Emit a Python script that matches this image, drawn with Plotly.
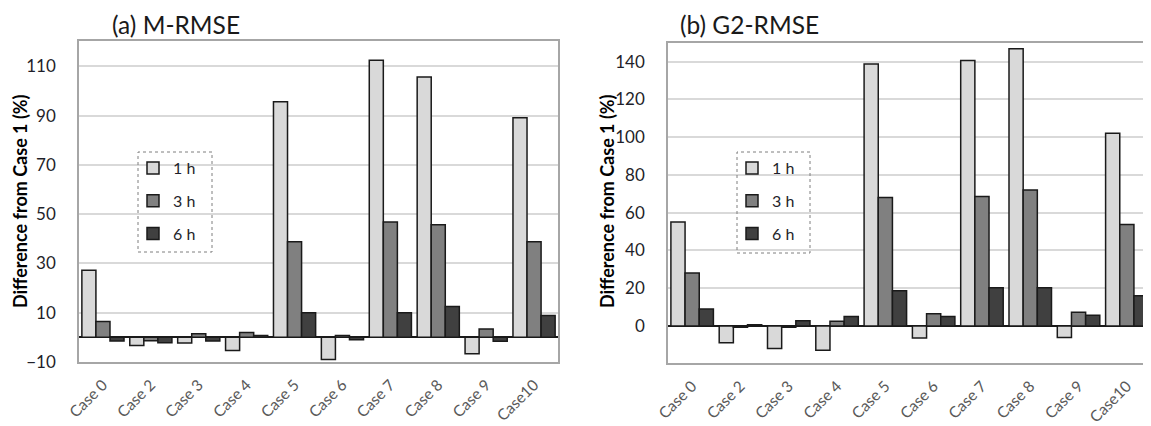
import plotly.graph_objects as go

categories = ["Case 0", "Case 2", "Case 3", "Case 4", "Case 5", "Case 6", "Case 7", "Case 8", "Case 9", "Case10"]
series_names = ["1 h", "3 h", "6 h"]

# (a) M-RMSE
m_1h = [27.2, -3.3, -2.3, -5.3, 95.6, -9.0, 112.5, 105.7, -6.7, 89.1]
m_3h = [6.4, -1.4, 1.5, 2.0, 38.8, 0.8, 46.8, 45.7, 3.4, 38.8]
m_6h = [-1.5, -2.2, -1.5, 0.8, 10.0, -1.0, 10.0, 12.5, -1.6, 8.9]

# (b) G2-RMSE
g_1h = [55.1, -8.9, -12.0, -12.9, 138.8, -6.4, 140.6, 146.8, -6.2, 102.1]
g_3h = [28.0, -0.7, -0.7, 2.5, 68.0, 6.4, 68.6, 72.0, 7.3, 53.7]
g_6h = [9.0, 0.6, 2.7, 5.0, 18.6, 5.0, 20.2, 20.2, 5.7, 16.0]

colors = ["#d9d9d9", "#808080", "#404040"]

# the page body adds an 8 px offset; size the figure so it ends at the window edge
OFF = 8
W, H = 1151 - OFF, 426 - OFF
FONT = "Lato"

def px(x):
    return (x - OFF) / W

def py(y):
    return 1 - (y - OFF) / H

fig = go.Figure()

for i, (name, vals) in enumerate(zip(series_names, [m_1h, m_3h, m_6h])):
    fig.add_trace(go.Bar(x=categories, y=vals, name=name, xaxis="x", yaxis="y",
                         marker=dict(color=colors[i], line=dict(color="#1a1a1a", width=1.5)),
                         legend="legend", legendgroup="a" + name))
for i, (name, vals) in enumerate(zip(series_names, [g_1h, g_3h, g_6h])):
    fig.add_trace(go.Bar(x=categories, y=vals, name=name, xaxis="x2", yaxis="y2",
                         marker=dict(color=colors[i], line=dict(color="#1a1a1a", width=1.5)),
                         legend="legend2", legendgroup="b" + name))

axis_common = dict(showline=True, mirror=True, linecolor="#a6a6a6", linewidth=1.5, automargin=False)
xcommon = dict(axis_common, tickangle=-45, tickfont=dict(family=FONT, size=15.5, color="#595959"),
               ticks="", showgrid=False, ticklabelstandoff=6)
ycommon = dict(axis_common, showgrid=True, gridcolor="#d9d9d9", gridwidth=1.5,
               zeroline=True, zerolinecolor="#1a1a1a", zerolinewidth=1.5,
               tickfont=dict(family=FONT, size=17, color="#1f1f2a"), ticks="",
               ticklabelstandoff=18, dtick=20)

legend_common = dict(xanchor="left", yanchor="top",
                     font=dict(family=FONT, size=16, color="#1f1f2a"), bgcolor="rgba(0,0,0,0)",
                     tracegroupgap=9, itemwidth=30)

fig.update_layout(
    width=W, height=H,
    margin=dict(l=0, r=0, t=0, b=0, autoexpand=False),
    paper_bgcolor="white", plot_bgcolor="white",
    barmode="group", bargap=0.12, bargroupgap=0,
    font=dict(family=FONT),
    xaxis=dict(xcommon, domain=[px(79), px(558)], anchor="y"),
    yaxis=dict(ycommon, domain=[py(362), py(41)], range=[-10, 120.3], tick0=-10, anchor="x"),
    xaxis2=dict(xcommon, domain=[px(668), 1.0], anchor="y2"),
    yaxis2=dict(ycommon, domain=[py(363.3), py(43.3)], range=[-19.8, 149.7], tick0=0, anchor="x2"),
    legend=dict(legend_common, x=px(133), y=py(151)),
    legend2=dict(legend_common, x=px(732), y=py(151)),
    showlegend=True,
)

fig.add_shape(type="rect", xref="paper", yref="paper", x0=px(138), x1=px(212), y0=py(252), y1=py(152),
              line=dict(color="#7f7f7f", width=1, dash="dot"))
fig.add_shape(type="rect", xref="paper", yref="paper", x0=px(737), x1=px(810), y0=py(253), y1=py(152),
              line=dict(color="#7f7f7f", width=1, dash="dot"))

fig.add_annotation(text="(a) M-RMSE", x=px(176), y=py(9), xref="paper", yref="paper",
                   xanchor="center", yanchor="top", borderpad=0,
                   showarrow=False, font=dict(family=FONT, size=24.5, color="#1a1a1a"))
fig.add_annotation(text="(b) G2-RMSE", x=px(750), y=py(9), xref="paper", yref="paper",
                   xanchor="center", yanchor="top", borderpad=0,
                   showarrow=False, font=dict(family=FONT, size=24.5, color="#1a1a1a"))
fig.add_annotation(text="<b>Difference from Case 1 (%)</b>", x=px(20), y=py(201), xref="paper", yref="paper",
                   xanchor="center", yanchor="middle",
                   showarrow=False, textangle=-90, font=dict(family=FONT, size=18, color="#000000"))
fig.add_annotation(text="<b>Difference from Case 1 (%)</b>", x=px(607), y=py(201), xref="paper", yref="paper",
                   xanchor="center", yanchor="middle",
                   showarrow=False, textangle=-90, font=dict(family=FONT, size=18, color="#000000"))

fig.write_html("out.html")
